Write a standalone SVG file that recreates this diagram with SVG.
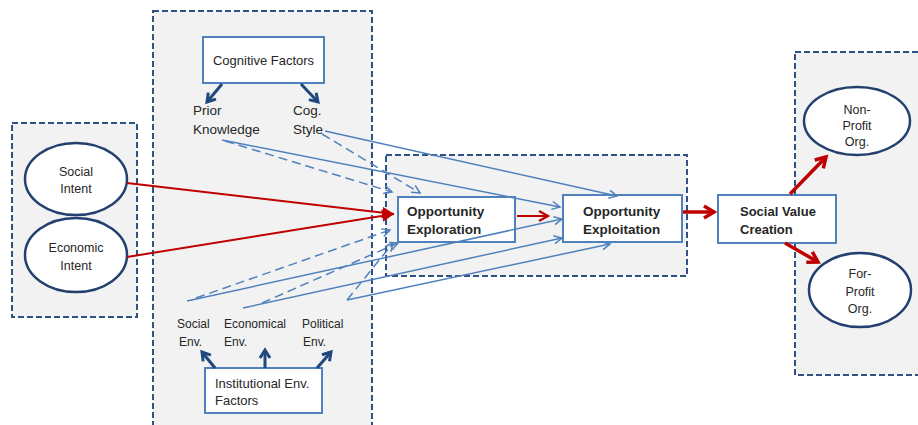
<svg xmlns="http://www.w3.org/2000/svg" width="918" height="425" viewBox="0 0 918 425">
<style>
.grp{fill:#f2f2f2;stroke:#2e5283;stroke-width:2;stroke-dasharray:6 3}
.box{fill:#fff;stroke:#4f81bd;stroke-width:2}
.ell{fill:#fff;stroke:#23406e;stroke-width:2.5}
text{font-family:"Liberation Sans",Arial,sans-serif;fill:#262626;font-size:12.5px}
.b{font-weight:bold;font-size:13.5px}
.bl{fill:none;stroke:#4f81bd;stroke-width:1.5}
.dash{stroke-dasharray:9 5}
.db{fill:none;stroke:#1f497d;stroke-width:3}
.rt{fill:none;stroke:#c00000;stroke-width:2}
.rk{fill:none;stroke:#c00000;stroke-width:3.5}
</style>
<defs>
<marker id="ab" markerUnits="userSpaceOnUse" markerWidth="12" markerHeight="12" refX="9" refY="5" orient="auto" viewBox="0 0 12 10">
<path d="M1,1 L9,5 L1,9" fill="none" stroke="#4f81bd" stroke-width="1.5"/>
</marker>
<marker id="ad" markerUnits="userSpaceOnUse" markerWidth="14" markerHeight="14" refX="10" refY="6" orient="auto" viewBox="0 0 14 12">
<path d="M2,1 L10,6 L2,11" fill="none" stroke="#1f497d" stroke-width="3"/>
</marker>
<marker id="ar" markerUnits="userSpaceOnUse" markerWidth="14" markerHeight="12" refX="12" refY="6" orient="auto" viewBox="0 0 14 12">
<path d="M0,0 L12,6 L0,12 Z" fill="#c00000"/>
</marker>
<marker id="ar2" markerUnits="userSpaceOnUse" markerWidth="14" markerHeight="14" refX="11" refY="6" orient="auto" viewBox="0 0 14 12">
<path d="M2,1 L11,6 L2,11" fill="none" stroke="#c00000" stroke-width="2.2"/>
</marker>
<marker id="ar3" markerUnits="userSpaceOnUse" markerWidth="16" markerHeight="16" refX="12" refY="7" orient="auto" viewBox="0 0 16 14">
<path d="M2,1 L12,7 L2,13" fill="none" stroke="#c00000" stroke-width="3.5"/>
</marker>
</defs>

<g id="groups">
<rect class="grp" x="12" y="123" width="125" height="194"/>
<rect class="grp" x="153" y="11" width="219" height="430"/>
<rect class="grp" x="386" y="155" width="301" height="121"/>
<rect class="grp" x="795" y="52" width="140" height="323"/>
</g>

<g id="social-intent">
<ellipse class="ell" cx="76" cy="179" rx="51" ry="36"/>
<text x="76" y="176" text-anchor="middle">Social</text>
<text x="76" y="193" text-anchor="middle">Intent</text>
</g>
<g id="economic-intent">
<ellipse class="ell" cx="76" cy="255" rx="51" ry="37"/>
<text x="76" y="252" text-anchor="middle">Economic</text>
<text x="76" y="270" text-anchor="middle">Intent</text>
</g>

<g id="cognitive-factors">
<rect class="box" x="203" y="37" width="121" height="46"/>
<text x="263.5" y="65" text-anchor="middle" style="font-size:13px">Cognitive Factors</text>
</g>
<g id="prior-knowledge">
<text x="193" y="115" style="font-size:13.5px">Prior</text>
<text x="193" y="134" style="font-size:13.5px">Knowledge</text>
</g>
<g id="cog-style">
<text x="293" y="115" style="font-size:13.5px">Cog.</text>
<text x="293" y="134" style="font-size:13.5px">Style</text>
</g>

<g id="social-env">
<text x="177" y="328" style="font-size:12px">Social</text>
<text x="179" y="346" style="font-size:12px">Env.</text>
</g>
<g id="economical-env">
<text x="224" y="328" style="font-size:12px">Economical</text>
<text x="224" y="346" style="font-size:12px">Env.</text>
</g>
<g id="political-env">
<text x="302" y="328" style="font-size:12px">Political</text>
<text x="303" y="346" style="font-size:12px">Env.</text>
</g>
<g id="institutional-env-factors">
<rect class="box" x="205" y="368" width="117" height="45"/>
<text x="215" y="388" style="font-size:13px">Institutional Env.</text>
<text x="215" y="405" style="font-size:13px">Factors</text>
</g>

<g id="opportunity-exploration">
<rect class="box" x="398" y="197" width="117" height="45"/>
<text x="407" y="216" class="b">Opportunity</text>
<text x="407" y="234" class="b">Exploration</text>
</g>
<g id="opportunity-exploitation">
<rect class="box" x="563" y="195" width="119" height="47"/>
<text x="583" y="216" class="b">Opportunity</text>
<text x="583" y="234" class="b">Exploitation</text>
</g>

<g id="social-value-creation">
<rect class="box" x="718" y="195" width="118" height="48"/>
<text x="740" y="216" class="b" style="font-size:13px">Social Value</text>
<text x="740" y="234" class="b" style="font-size:13px">Creation</text>
</g>

<g id="non-profit">
<ellipse class="ell" cx="857" cy="121" rx="53" ry="34"/>
<text x="857" y="114" text-anchor="middle">Non-</text>
<text x="857" y="130" text-anchor="middle">Profit</text>
<text x="857" y="146" text-anchor="middle">Org.</text>
</g>
<g id="for-profit">
<ellipse class="ell" cx="860" cy="290" rx="51" ry="37"/>
<text x="860" y="278" text-anchor="middle">For-</text>
<text x="860" y="296" text-anchor="middle">Profit</text>
<text x="860" y="313" text-anchor="middle">Org.</text>
</g>

<g id="connectors">
<line class="db" x1="222" y1="84" x2="207" y2="102" marker-end="url(#ad)"/>
<line class="db" x1="301" y1="84" x2="318" y2="102" marker-end="url(#ad)"/>
<line class="db" x1="215" y1="368" x2="202" y2="352" marker-end="url(#ad)"/>
<line class="db" x1="265" y1="368" x2="265" y2="350" marker-end="url(#ad)"/>
<line class="db" x1="317" y1="368" x2="331" y2="352" marker-end="url(#ad)"/>

<line class="bl dash" x1="225" y1="141" x2="392" y2="192" marker-end="url(#ab)"/>
<line class="bl dash" x1="322" y1="134" x2="420" y2="193" marker-end="url(#ab)"/>
<line class="bl dash" x1="196" y1="298" x2="390" y2="230" marker-end="url(#ab)"/>
<line class="bl dash" x1="262" y1="303" x2="398" y2="243" marker-end="url(#ab)"/>
<line class="bl dash" x1="347" y1="300" x2="393" y2="243" marker-end="url(#ab)"/>

<line class="bl" x1="222" y1="140" x2="560" y2="207" marker-end="url(#ab)"/>
<line class="bl" x1="325" y1="131" x2="617" y2="196" marker-end="url(#ab)"/>
<line class="bl" x1="187" y1="301" x2="562" y2="219" marker-end="url(#ab)"/>
<line class="bl" x1="243" y1="308" x2="562" y2="238" marker-end="url(#ab)"/>
<line class="bl" x1="347" y1="300" x2="610" y2="244" marker-end="url(#ab)"/>

<line class="rt" x1="127" y1="183" x2="394" y2="214" marker-end="url(#ar)"/>
<line class="rt" x1="127" y1="257" x2="394" y2="214" marker-end="url(#ar)"/>
<line class="rt" x1="517" y1="216" x2="548" y2="216" marker-end="url(#ar2)"/>
<line class="rk" x1="683" y1="212" x2="714" y2="212" marker-end="url(#ar3)"/>
<line class="rk" x1="790" y1="194" x2="826" y2="157" marker-end="url(#ar3)"/>
<line class="rk" x1="785" y1="243" x2="818" y2="262" marker-end="url(#ar3)"/>
</g>
</svg>
